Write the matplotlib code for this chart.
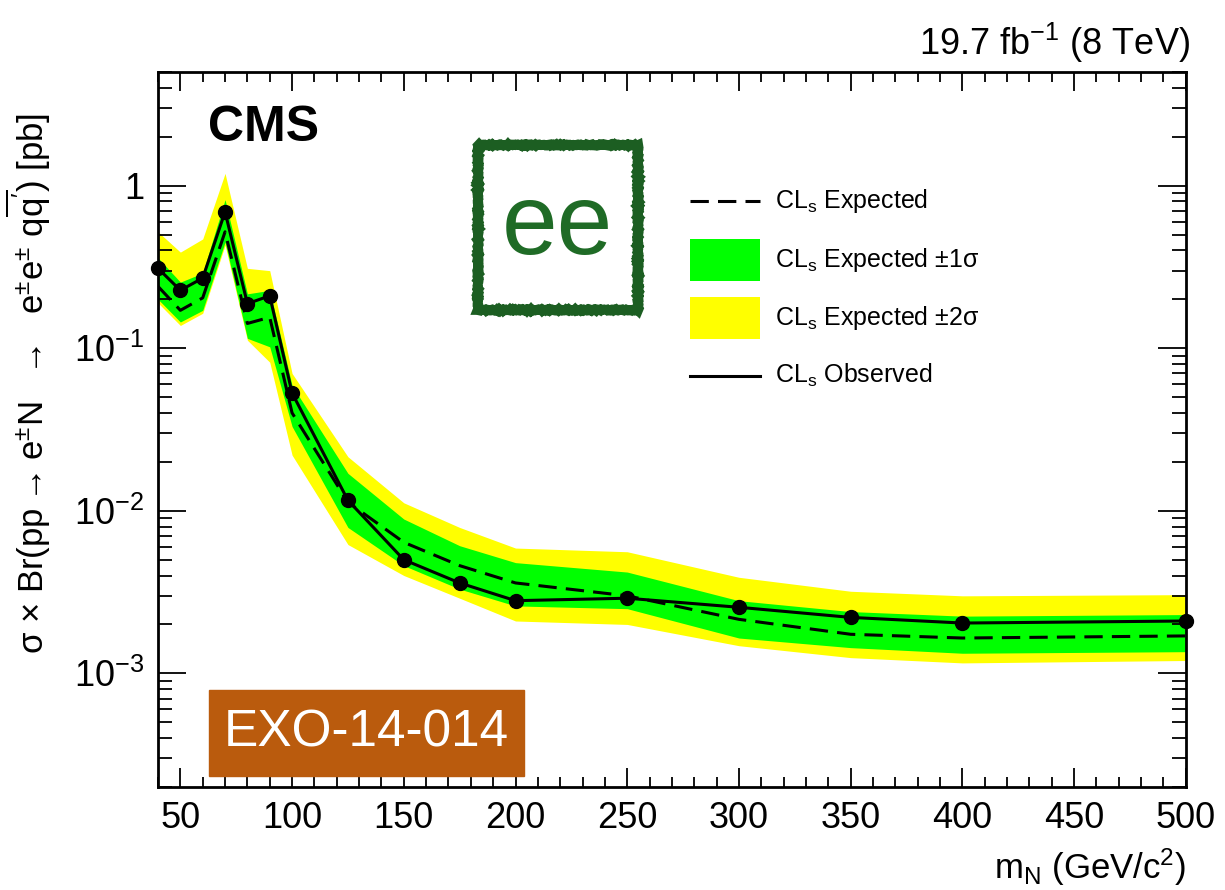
import matplotlib
matplotlib.use('Agg')
import matplotlib.pyplot as plt
import numpy as np
from matplotlib import patches, ticker

plt.rcParams['font.family'] = ['Liberation Sans', 'DejaVu Sans']
plt.rcParams['mathtext.default'] = 'regular'

# heavy neutrino mass points (GeV/c^2)
mass = [40, 50, 60, 70, 80, 90, 100, 125, 150, 175, 200, 250, 300, 350, 400, 500]

# 95% CL limits [pb]
observed = [0.31, 0.227, 0.27, 0.69, 0.188, 0.21, 0.053, 0.0116, 0.0050, 0.0036,
            0.0028, 0.0029, 0.00255, 0.00221, 0.00204, 0.0021]
expected = [0.24, 0.171, 0.204, 0.52, 0.142, 0.155, 0.040, 0.0113, 0.0064, 0.0046,
            0.0036, 0.0030, 0.00215, 0.00174, 0.00165, 0.0017]
one_sig_hi = [0.36, 0.255, 0.29, 0.82, 0.216, 0.227, 0.059, 0.0170, 0.0089, 0.0061,
              0.0048, 0.0042, 0.0028, 0.0024, 0.00225, 0.0023]
one_sig_lo = [0.20, 0.145, 0.171, 0.45, 0.115, 0.102, 0.033, 0.0079, 0.0046, 0.0033,
              0.0026, 0.0025, 0.00165, 0.00144, 0.00133, 0.00136]
two_sig_hi = [0.52, 0.39, 0.47, 1.19, 0.31, 0.30, 0.070, 0.0215, 0.0112, 0.0079,
              0.0059, 0.0056, 0.0039, 0.0032, 0.0030, 0.00305]
two_sig_lo = [0.19, 0.138, 0.164, 0.43, 0.112, 0.082, 0.022, 0.0062, 0.0040, 0.0029,
              0.0021, 0.0020, 0.00148, 0.00125, 0.00116, 0.0012]

ytick_vals = [1e-3, 1e-2, 1e-1, 1]
ytick_labels = ['$10^{-3}$', '$10^{-2}$', '$10^{-1}$', '1']

fig = plt.figure(figsize=(12.25, 8.9), dpi=100)
ax = fig.add_axes([0.129, 0.1157, 0.839, 0.8034])

ax.fill_between(mass, two_sig_lo, two_sig_hi, color='#ffff00', lw=0)
ax.fill_between(mass, one_sig_lo, one_sig_hi, color='#00ff00', lw=0)
ax.plot(mass, expected, color='k', lw=2.2, ls=(0, (6, 3)))
ax.plot(mass, observed, color='k', lw=2.2, marker='o', ms=10, clip_on=False, zorder=5)

ax.set_yscale('log')
ax.set_xlim(40, 500)
ax.set_ylim(2e-4, 5)

ax.xaxis.set_major_locator(ticker.MultipleLocator(50))
ax.xaxis.set_minor_locator(ticker.MultipleLocator(10))
ax.yaxis.set_major_locator(ticker.FixedLocator(ytick_vals))
ax.yaxis.set_major_formatter(ticker.FixedFormatter(ytick_labels))
ax.yaxis.set_minor_locator(ticker.LogLocator(base=10, subs=np.arange(2, 10)))
ax.yaxis.set_minor_formatter(ticker.NullFormatter())

ax.tick_params(which='both', direction='in', top=True, right=True, width=1.3, labelsize=26)
ax.tick_params(axis='x', which='major', length=14, pad=10)
ax.tick_params(axis='x', which='minor', length=7)
ax.tick_params(axis='y', which='major', length=20, pad=10)
ax.tick_params(axis='y', which='minor', length=10)
for s in ax.spines.values():
    s.set_linewidth(2)

ax.set_ylabel('σ × Br(pp$\\rightarrow$e$^{\\pm}$N  $\\rightarrow$  e$^{\\pm}$e$^{\\pm}$ q$\\overline{q\'}$) [pb]',
              fontsize=25)
ax.yaxis.set_label_coords(-0.102, 0.565)

ax.text(1.0, -0.083, 'm$_N$ (GeV/c$^2$)', transform=ax.transAxes, ha='right', va='top', fontsize=25)
ax.text(1.004, 1.024, '19.7 fb$^{-1}$ (8 TeV)', transform=ax.transAxes, ha='right',
        va='baseline', fontsize=26)
ax.text(0.0486, 0.954, 'CMS', transform=ax.transAxes, ha='left', va='top',
        fontsize=36, fontweight='bold')

# "ee" channel badge
badge = patches.Rectangle((0.311, 0.667), 0.156, 0.231, transform=ax.transAxes,
                          fill=False, ec='#1c5e22', lw=7, zorder=6)
badge.set_sketch_params(scale=0.6, length=3, randomness=3)
ax.add_patch(badge)
ax.text(0.389, 0.782, 'ee', transform=ax.transAxes, ha='center', va='center',
        fontsize=72, color='#1f6b26', zorder=6)

# analysis tag
ax.add_patch(patches.Rectangle((0.0496, 0.0154), 0.3064, 0.1203, transform=ax.transAxes,
                               color='#ba5b0d', zorder=6))
ax.text(0.2028, 0.0755, 'EXO-14-014', transform=ax.transAxes, ha='center', va='center',
        fontsize=37, color='white', zorder=7)

# legend
lx0, lx1, tx = 0.5175, 0.5856, 0.600
ax.plot([lx0, lx1], [0.82, 0.82], transform=ax.transAxes, color='k', lw=2.2,
        ls=(0, (6, 3)), clip_on=False)
ax.text(tx, 0.82, 'CL$_s$ Expected', transform=ax.transAxes, va='center', fontsize=18)
ax.add_patch(patches.Rectangle((lx0, 0.708), lx1 - lx0, 0.058, transform=ax.transAxes,
                               color='#00ff00', lw=0))
ax.text(tx, 0.737, 'CL$_s$ Expected ±1σ', transform=ax.transAxes, va='center', fontsize=18)
ax.add_patch(patches.Rectangle((lx0, 0.627), lx1 - lx0, 0.058, transform=ax.transAxes,
                               color='#ffff00', lw=0))
ax.text(tx, 0.656, 'CL$_s$ Expected ±2σ', transform=ax.transAxes, va='center', fontsize=18)
ax.plot([lx0, lx1], [0.575, 0.575], transform=ax.transAxes, color='k', lw=2.2, clip_on=False)
ax.text(tx, 0.575, 'CL$_s$ Observed', transform=ax.transAxes, va='center', fontsize=18)

fig.savefig('out.png', dpi=100)
